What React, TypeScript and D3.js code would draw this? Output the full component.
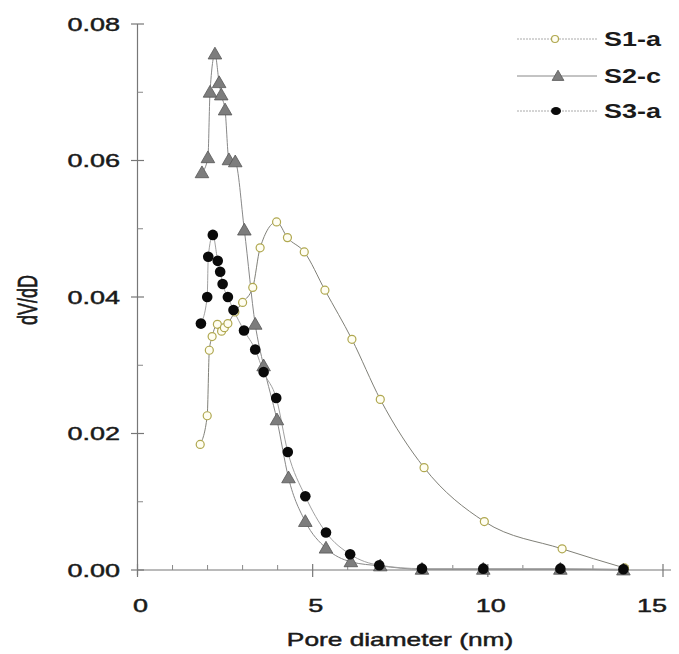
import React from "react";
import * as d3 from "d3";

const s1X = [1.79, 1.99, 2.05, 2.13, 2.28, 2.4, 2.48, 2.58, 2.78, 3.0, 3.29, 3.5, 3.97, 4.28, 4.76, 5.35, 6.12, 6.93, 8.18, 9.9, 12.12, 13.9];
const s1Y = [0.0184, 0.0226, 0.0322, 0.0342, 0.036, 0.035, 0.0355, 0.0361, 0.0378, 0.0392, 0.0414, 0.0472, 0.051, 0.0487, 0.0466, 0.041, 0.0338, 0.025, 0.015, 0.0071, 0.0031, 0.0003];

const s2X = [1.84, 2.01, 2.07, 2.21, 2.33, 2.39, 2.5, 2.61, 2.79, 3.05, 3.36, 3.6, 3.98, 4.31, 4.79, 5.38, 6.09, 6.93, 8.12, 9.87, 12.07, 13.87];
const s2Y = [0.0582, 0.0604, 0.07, 0.0756, 0.0714, 0.0696, 0.0674, 0.0601, 0.0598, 0.0498, 0.036, 0.0299, 0.022, 0.0135, 0.0071, 0.0032, 0.0012, 0.0006, 0.0001, 0.0001, 0.0001, 0.0];

const s3X = [1.81, 1.99, 2.02, 2.15, 2.29, 2.36, 2.43, 2.58, 2.74, 3.04, 3.36, 3.6, 3.96, 4.29, 4.79, 5.38, 6.07, 6.9, 8.12, 9.87, 12.07, 13.87];
const s3Y = [0.0361, 0.04, 0.0459, 0.0491, 0.0453, 0.0437, 0.0419, 0.04, 0.0381, 0.0351, 0.0323, 0.029, 0.0252, 0.0173, 0.0108, 0.0055, 0.0023, 0.0007, 0.0002, 0.0002, 0.0002, 0.0001];

const xTicks = [0, 5, 10, 15];
const yTicks = [0, 0.02, 0.04, 0.06, 0.08];
const seriesNames = ["S1-a", "S2-c", "S3-a"];

const W = 679;
const H = 654;
const SX = 1.5; // horizontal stretch of the original image

export default function App() {
  const x = d3.scaleLinear().domain([0, 15]).range([137.5, 663]);
  const y = d3.scaleLinear().domain([0, 0.08]).range([570, 24]);

  const mk = (xs: number[], ys: number[]) => xs.map((v, i) => [v, ys[i]] as [number, number]);
  const d1 = mk(s1X, s1Y);
  const d2 = mk(s2X, s2Y);
  const d3d = mk(s3X, s3Y);

  const line = d3
    .line<[number, number]>()
    .x((d) => x(d[0]))
    .y((d) => y(d[1]))
    .curve(d3.curveMonotoneX);

  const tri = d3.symbol().type(d3.symbolTriangle).size(80)() as string;
  const triLeg = d3.symbol().type(d3.symbolTriangle).size(60)() as string;

  const minorX = d3.range(0, 15.01, 1).filter((v) => v % 5 !== 0);
  const minorY = [0.01, 0.03, 0.05, 0.07];

  const font = "Liberation Sans, Arial, sans-serif";
  const txt = "#1a1a1a";
  const tw = 0.45;

  const legendY = [39, 76, 111];

  return (
    <svg width={W} height={H} style={{ position: "absolute", left: 0, top: 0, background: "#fff" }} fontFamily={font}>
      {/* axes */}
      <line x1={137.5} x2={671} y1={570} y2={570} stroke="#777" strokeWidth={1.2} />
      <line x1={137.5} x2={137.5} y1={24} y2={575} stroke="#777" strokeWidth={1.2} />
      {xTicks.map((t) => (
        <line key={"xt" + t} x1={x(t)} x2={x(t)} y1={564} y2={577} stroke="#777" strokeWidth={1.2} />
      ))}
      {minorX.map((t) => (
        <line key={"xm" + t} x1={x(t)} x2={x(t)} y1={565} y2={570} stroke="#888" strokeWidth={1} />
      ))}
      {yTicks.map((t) => (
        <line key={"yt" + t} x1={131} x2={144} y1={y(t)} y2={y(t)} stroke="#777" strokeWidth={1.2} />
      ))}
      {minorY.map((t) => (
        <line key={"ym" + t} x1={137.5} x2={143} y1={y(t)} y2={y(t)} stroke="#888" strokeWidth={1} />
      ))}
      {yTicks.map((t) => (
        <text
          key={"yl" + t}
          transform={`translate(120,${y(t) + 6.5}) scale(${SX},1)`}
          textAnchor="end"
          fontSize={18}
          fill={txt}
          stroke={txt}
          strokeWidth={tw}
        >
          {t.toFixed(2)}
        </text>
      ))}
      {xTicks.map((t) => (
        <text
          key={"xl" + t}
          transform={`translate(${Math.min(x(t) + 3, 652)},${612}) scale(${SX},1)`}
          textAnchor="middle"
          fontSize={18}
          fill={txt}
          stroke={txt}
          strokeWidth={tw}
        >
          {t}
        </text>
      ))}
      <text transform={`translate(400,646) scale(${SX - 0.04},1)`} textAnchor="middle" fontSize={18} fill={txt} stroke={txt} strokeWidth={tw}>
        Pore diameter (nm)
      </text>
      <text transform={`translate(37,300) scale(${SX},1) rotate(-90)`} textAnchor="middle" fontSize={18} fill={txt} stroke={txt} strokeWidth={tw}>
        dV/dD
      </text>

      {/* lines */}
      <path d={line(d1) || ""} fill="none" stroke="#808078" strokeWidth={1} />
      <path d={line(d2) || ""} fill="none" stroke="#888" strokeWidth={1} />
      <path d={line(d3d) || ""} fill="none" stroke="#a0a0a0" strokeWidth={1} />

      {/* markers */}
      {d1.map((d, i) => (
        <circle key={"a" + i} cx={x(d[0])} cy={y(d[1])} r={4} fill="#fffef2" stroke="#b0a850" strokeWidth={1.2} />
      ))}
      {d2.map((d, i) => (
        <path key={"b" + i} d={tri} transform={`translate(${x(d[0])},${y(d[1]) + 1})`} fill="#7d7d7d" stroke="#555" strokeWidth={0.8} />
      ))}
      {d3d.map((d, i) => (
        <circle key={"c" + i} cx={x(d[0])} cy={y(d[1])} r={5.3} fill="#0a0a0a" />
      ))}

      {/* legend */}
      {seriesNames.map((n, i) => (
        <g key={n}>
          <line x1={517} x2={597} y1={legendY[i]} y2={legendY[i]} stroke={i === 1 ? "#888" : "#aaa"} strokeWidth={1} strokeDasharray={i === 1 ? undefined : "2,1"} />
          {i === 0 && <circle cx={555} cy={legendY[i]} r={3.5} fill="#fffef2" stroke="#b0a850" strokeWidth={1.2} />}
          {i === 1 && <path d={triLeg} transform={`translate(558,${legendY[i] + 1})`} fill="#7d7d7d" stroke="#555" strokeWidth={0.8} />}
          {i === 2 && <ellipse cx={556} cy={legendY[i]} rx={5} ry={4} fill="#0a0a0a" />}
          <text transform={`translate(604,${legendY[i] + 7})`} fontSize={20} fontWeight="bold" fill={txt} textLength={57} lengthAdjust="spacingAndGlyphs">
            {n}
          </text>
        </g>
      ))}
    </svg>
  );
}
